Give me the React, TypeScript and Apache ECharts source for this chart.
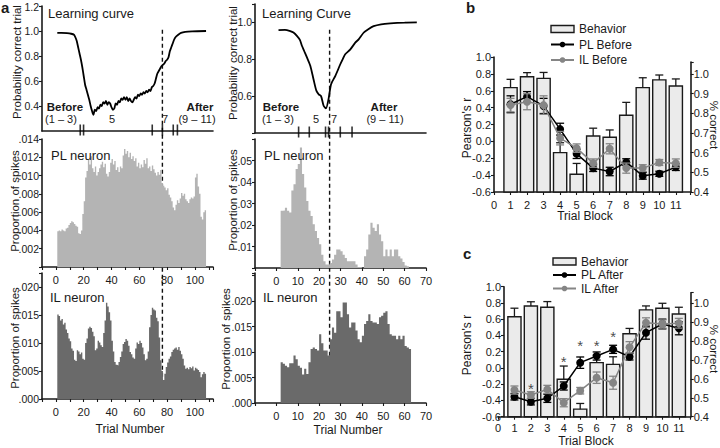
import React, { useEffect, useRef } from "react";
import * as echarts from "echarts";

const FONT = "'Liberation Sans', Arial, Helvetica, sans-serif";
const INK = "#1a1a1a";
const LIGHT = "#b4b4b4";
const DARK = "#6a6a6a";
const GRAYLINE = "#858585";
const BARFILL = "#ebebeb";

// ---------- Panel a: learning curves ----------
const curveLeftTrial = [1, 4, 8, 11, 13, 14, 15, 16, 17, 18, 19, 20, 21, 22, 23, 24, 25, 26, 27, 28, 29, 30, 31, 32, 33, 34, 35, 36, 37, 38, 39, 40, 41, 42, 43, 44, 45, 46, 47, 48, 49, 50, 51, 52, 53, 54, 55, 56, 57, 58, 59, 60, 61, 62, 63, 64, 65, 66, 67, 68, 69, 70, 71, 72, 73, 74, 75, 76, 77, 78, 79, 80, 81, 82, 83, 84, 85, 86, 88, 90, 93, 98, 108];
const curveLeftProb = [0.985, 0.985, 0.983, 0.978, 0.97, 0.95, 0.92, 0.87, 0.82, 0.77, 0.71, 0.64, 0.57, 0.53, 0.49, 0.45, 0.4, 0.36, 0.33, 0.37, 0.36, 0.39, 0.38, 0.41, 0.4, 0.43, 0.42, 0.44, 0.41, 0.43, 0.42, 0.39, 0.37, 0.38, 0.42, 0.41, 0.44, 0.43, 0.46, 0.45, 0.47, 0.45, 0.47, 0.44, 0.46, 0.44, 0.43, 0.45, 0.47, 0.46, 0.49, 0.48, 0.5, 0.49, 0.51, 0.5, 0.52, 0.51, 0.53, 0.52, 0.55, 0.56, 0.58, 0.62, 0.66, 0.68, 0.7, 0.72, 0.73, 0.74, 0.76, 0.77, 0.79, 0.84, 0.87, 0.9, 0.93, 0.95, 0.97, 0.985, 0.993, 0.997, 1.0];
const curveRightTrial = [1, 4, 6.5, 8, 9.7, 11, 12, 13, 14.3, 15.9, 17.4, 18.7, 19.8, 20.9, 22.1, 23.2, 24.4, 25.6, 27.6, 29.9, 31, 32.2, 34.6, 36.9, 38.5, 40.8, 43, 45.5, 49, 53.3, 60, 65.7];
const curveRightProb = [0.958, 0.96, 0.953, 0.945, 0.926, 0.905, 0.872, 0.845, 0.81, 0.764, 0.69, 0.63, 0.61, 0.6, 0.548, 0.534, 0.584, 0.665, 0.71, 0.773, 0.8, 0.827, 0.854, 0.89, 0.908, 0.944, 0.963, 0.98, 0.99, 0.995, 0.999, 1.0];
const probTicksLeft = [0.4, 0.6, 0.8, 1.0, 1.2];
const blockTicksLeft = [17.5, 19.9, 69.3, 76.6, 84.4, 87.4];
const blockTicksRight = [10.4, 15.4, 23.0, 24.4, 29.9, 35.4];
const switchTrialLeft = 76.6;
const switchTrialRight = 24.9;

// ---------- Panel a: spike histograms ----------
const plLeftStartTrial = 1;
const plLeftProportion = [
  0.0039, 0.004, 0.0039, 0.0041, 0.004, 0.0039, 0.0042, 0.0043,
  0.0046, 0.0048, 0.005, 0.0049, 0.0047, 0.0045, 0.0044, 0.0037, 0.0036, 0.004,
  0.0058, 0.0072, 0.0098, 0.0105, 0.0118, 0.0112, 0.0121, 0.0108, 0.0104, 0.011,
  0.01, 0.0104, 0.0108, 0.0112, 0.0115, 0.0109, 0.0113, 0.0102, 0.0099, 0.0104,
  0.0114, 0.0118, 0.0112, 0.0116, 0.0106, 0.0109, 0.0104, 0.011, 0.0108,
  0.0122, 0.0129, 0.0124, 0.0127, 0.012, 0.0125, 0.0118, 0.0121, 0.0116, 0.0119,
  0.011, 0.0114, 0.0108, 0.0112, 0.0109, 0.0117, 0.0113, 0.0119,
  0.0108, 0.011, 0.0105, 0.0111, 0.0107, 0.0103, 0.01, 0.0104, 0.0101, 0.0106,
  0.0092, 0.0089, 0.0087, 0.0084, 0.0086, 0.0079, 0.0076, 0.0072, 0.0065, 0.0062, 0.0068,
  0.0073, 0.007, 0.0075, 0.0081, 0.0078, 0.008, 0.0074, 0.0072, 0.007,
  0.0074, 0.0076, 0.0075, 0.0077, 0.0098, 0.0102, 0.0088, 0.008, 0.0055, 0.0052, 0.006, 0.0062,
];
const ilLeftStartTrial = 1;
const ilLeftProportion = [
  0.0151, 0.0148, 0.014, 0.0143, 0.0133, 0.0136, 0.0124, 0.0118, 0.0108, 0.0103,
  0.009, 0.0086, 0.007, 0.0068, 0.0087, 0.0085, 0.008, 0.0083, 0.0072, 0.007,
  0.01, 0.0108, 0.0126, 0.0129, 0.0127, 0.012, 0.0112, 0.0087, 0.009, 0.0104,
  0.0101, 0.0096, 0.0093, 0.0118, 0.014, 0.0172, 0.0165, 0.0155, 0.014, 0.0104,
  0.0085, 0.0066, 0.0061, 0.006, 0.0066, 0.0075, 0.0085, 0.0098, 0.0102, 0.0107,
  0.0104, 0.0095, 0.0084, 0.008, 0.0074, 0.0072, 0.009, 0.0101, 0.0098, 0.0104,
  0.01, 0.0092, 0.008, 0.0069, 0.0072, 0.0085, 0.0128, 0.015, 0.0163, 0.016,
  0.0158, 0.0145, 0.0139, 0.011, 0.0069, 0.005, 0.0034, 0.0045, 0.0057, 0.0065,
  0.0072, 0.0076, 0.0084, 0.0088, 0.009, 0.0092, 0.0088, 0.0093, 0.0086, 0.008,
  0.0072, 0.006, 0.0054, 0.0056, 0.0053, 0.0057, 0.0055, 0.0058, 0.0051, 0.0056,
  0.0054, 0.0052, 0.0048, 0.0039, 0.0044, 0.0048, 0.0045,
];
const plRightStartTrial = 2;
const plRightProportion = [
  0.0266, 0.0268, 0.028, 0.0266, 0.0258, 0.036, 0.039, 0.046, 0.0484, 0.056,
  0.0437, 0.0375, 0.0312, 0.0266, 0.0242, 0.0203, 0.0172, 0.014, 0.011, 0.0062,
  0.0031, 0.0016, 0.0016, 0.0023, 0.0039, 0.0062, 0.0086, 0.0086, 0.0078, 0.0062,
  0.0047, 0.0031, 0.0031, 0.0031, 0.0031, 0.0016, 0.0005, 0.0005, 0, 0.0055,
  0.0086, 0.0156, 0.021, 0.0187, 0.0172, 0.0203, 0.0156, 0.0125, 0.0055, 0.0086,
  0.0055, 0.0086, 0.0055, 0.0086, 0.0086, 0.0055, 0.0044, 0.0028, 0.0012, 0.0008,
];
const ilRightStartTrial = 2;
const ilRightProportion = [
  0.008, 0.0077, 0.0073, 0.007, 0.0078, 0.0078, 0.0093, 0.0086, 0.0073, 0.0069,
  0.0056, 0.0067, 0.0057, 0.008, 0.0106, 0.0109, 0.0106, 0.0103, 0.0135, 0.0117,
  0.0103, 0.0103, 0.0093, 0.0125, 0.0148, 0.0138, 0.018, 0.018, 0.0168, 0.0197,
  0.0197, 0.0174, 0.0148, 0.0158, 0.0158, 0.0142, 0.0125, 0.0119, 0.0132, 0.0155,
  0.0161, 0.0174, 0.0161, 0.0158, 0.0158, 0.0155, 0.0168, 0.0171, 0.0177, 0.018,
  0.0155, 0.0135, 0.0132, 0.0132, 0.0125, 0.0132, 0.0125, 0.0132, 0.0112, 0.0109, 0.0106,
];

// ---------- Panels b and c ----------
const trialBlocks = [1, 2, 3, 4, 5, 6, 7, 8, 9, 10, 11];
const behaviorBefore = [0.93, 0.985, 0.977, 0.6, 0.49, 0.684, 0.678, 0.79, 0.93, 0.969, 0.938];
const behaviorBeforeErr = [0.042, 0.021, 0.03, 0.05, 0.055, 0.04, 0.037, 0.065, 0.05, 0.025, 0.036];
const plBefore = [0.44, 0.53, 0.42, 0.145, -0.148, -0.317, -0.357, -0.246, -0.408, -0.384, -0.305];
const plBeforeErr = [0.1, 0.06, 0.09, 0.07, 0.055, 0.04, 0.05, 0.04, 0.04, 0.03, 0.04];
const ilBefore = [0.43, 0.47, 0.43, 0.038, -0.08, -0.258, -0.088, -0.317, -0.317, -0.25, -0.258];
const ilBeforeErr = [0.08, 0.095, 0.11, 0.08, 0.05, 0.05, 0.06, 0.06, 0.04, 0.035, 0.05];

const behaviorAfter = [0.929, 0.986, 0.979, 0.598, 0.44, 0.686, 0.677, 0.839, 0.965, 0.974, 0.943];
const behaviorAfterErr = [0.045, 0.022, 0.03, 0.07, 0.03, 0.04, 0.04, 0.028, 0.021, 0.026, 0.036];
const plAfter = [-0.354, -0.415, -0.374, -0.222, 0.065, 0.147, 0.229, 0.138, 0.434, 0.541, 0.488];
const plAfterErr = [0.04, 0.04, 0.05, 0.05, 0.07, 0.05, 0.05, 0.04, 0.08, 0.06, 0.08];
const ilAfter = [-0.272, -0.333, -0.264, -0.428, -0.28, -0.12, -0.182, 0.254, 0.557, 0.541, 0.55];
const ilAfterErr = [0.05, 0.04, 0.05, 0.05, 0.04, 0.07, 0.08, 0.07, 0.06, 0.05, 0.06];
const starBlocks = [2, 4, 5, 6, 7];
const starLevel = [-0.198, 0.126, 0.323, 0.323, 0.434];

// ---------- helpers ----------
type FmtOpts = { strip?: boolean; hideZero?: boolean; lo?: number; hi?: number };
const tickFmt = (step: number, digits: number, o: FmtOpts = {}) => (raw: number) => {
  let v = Math.abs(raw) < 1e-9 ? 0 : raw;
  const k = v / step;
  if (Math.abs(k - Math.round(k)) > 1e-7) return "";
  if (o.hideZero && v === 0) return "";
  if (o.lo !== undefined && v < o.lo - 1e-9) return "";
  if (o.hi !== undefined && v > o.hi + 1e-9) return "";
  let s = v.toFixed(digits);
  if (o.strip) s = s.replace(/^0\./, ".");
  return s;
};

const labelA = { color: INK, fontFamily: FONT, fontSize: 10.5 };
const labelB = { color: INK, fontFamily: FONT, fontSize: 11 };

function valAxis(gridIndex: number, min: number, max: number, interval: number, extra: any = {}) {
  return {
    type: "value",
    gridIndex,
    min,
    max,
    interval,
    splitLine: { show: false },
    axisLine: { show: true, onZero: false, lineStyle: { color: INK, width: 1.6 } },
    axisTick: { show: true, length: 3, lineStyle: { color: INK, width: 1.1 } },
    ...extra,
  };
}

function histSeries(axis: number, start: number, vals: number[], color: string) {
  const data = vals.map((v, i) => [start + i, v]);
  data.push([start + vals.length, vals[vals.length - 1]]);
  return {
    type: "line",
    xAxisIndex: axis,
    yAxisIndex: axis,
    silent: true,
    step: "end",
    symbol: "none",
    showSymbol: false,
    z: 2,
    lineStyle: { width: 0, color },
    areaStyle: { color, opacity: 1 },
    data,
  };
}

function barSeries(axis: number, name: string, vals: number[], base: number) {
  return {
    type: "custom",
    name,
    xAxisIndex: axis,
    yAxisIndex: axis,
    silent: true,
    z: 1,
    itemStyle: { color: BARFILL, borderColor: INK },
    data: trialBlocks.map((b, i) => [b, vals[i]]),
    renderItem: (_p: any, api: any) => {
      const x = api.value(0);
      const v = api.value(1);
      const a = api.coord([x - 0.4, base]);
      const b = api.coord([x + 0.4, v]);
      return {
        type: "rect",
        shape: { x: a[0], y: b[1], width: b[0] - a[0], height: a[1] - b[1] },
        style: { fill: BARFILL, stroke: INK, lineWidth: 1.4 },
      };
    },
  };
}

function errSeries(axis: number, vals: number[], errs: number[], color: string, upOnly: boolean, z: number) {
  return {
    type: "custom",
    xAxisIndex: axis,
    yAxisIndex: axis,
    silent: true,
    z,
    data: trialBlocks.map((b, i) => [b, upOnly ? vals[i] : vals[i] - errs[i], vals[i] + errs[i]]),
    renderItem: (_p: any, api: any) => {
      const x = api.value(0);
      const p1 = api.coord([x, api.value(1)]);
      const p2 = api.coord([x, api.value(2)]);
      const cw = 4;
      const st = { stroke: color, lineWidth: 1.3 };
      const children: any[] = [
        { type: "line", shape: { x1: p1[0], y1: p1[1], x2: p2[0], y2: p2[1] }, style: st },
        { type: "line", shape: { x1: p2[0] - cw, y1: p2[1], x2: p2[0] + cw, y2: p2[1] }, style: st },
      ];
      if (!upOnly) children.push({ type: "line", shape: { x1: p1[0] - cw, y1: p1[1], x2: p1[0] + cw, y2: p1[1] }, style: st });
      return { type: "group", children };
    },
  };
}

function lineSeries(axis: number, name: string, vals: number[], color: string, z: number) {
  return {
    type: "line",
    name,
    xAxisIndex: axis,
    yAxisIndex: axis,
    z,
    symbol: "circle",
    symbolSize: 8,
    silent: true,
    itemStyle: { color },
    lineStyle: { color, width: 1.5 },
    data: trialBlocks.map((b, i) => [b, vals[i]]),
  };
}

function buildOption(): any {
  const grids = [
    { left: 42, top: 6, width: 171, height: 125 },
    { left: 255, top: 4, width: 171, height: 129 },
    { left: 42, top: 139, width: 171, height: 128 },
    { left: 255, top: 139, width: 171, height: 129 },
    { left: 42, top: 273, width: 171, height: 126 },
    { left: 255, top: 273, width: 171, height: 130 },
    { left: 494, top: 57, width: 196.7, height: 135 },
    { left: 494, top: 62, width: 196.7, height: 130 },
    { left: 498, top: 286.7, width: 192.7, height: 130 },
    { left: 498, top: 292.7, width: 192.7, height: 124 },
  ].map((g) => ({ ...g, containLabel: false, outerBoundsMode: "none", show: false }));

  const noLabelX = { axisTick: { show: false }, axisLabel: { show: false } };
  const histLabelL = { axisLabel: { ...labelA, fontSize: 11, margin: 7, formatter: tickFmt(20, 0, { lo: 0, hi: 100 }) } };
  const histLabelR = { axisLabel: { ...labelA, fontSize: 11, margin: 7, formatter: tickFmt(10, 0, { lo: 0, hi: 70 }) } };
  const blockLabelB = { axisLabel: { ...labelB, margin: 7, formatter: tickFmt(1, 0, { hi: 11 }) } };
  const blockLabelC = { axisLabel: { ...labelB, margin: 6, formatter: tickFmt(1, 0, { hi: 11 }) } };

  const xAxis = [
    valAxis(0, -10, 113, 10, noLabelX),
    valAxis(1, -10, 70, 10, noLabelX),
    valAxis(2, -10, 113, 10, histLabelL),
    valAxis(3, -10, 70, 10, histLabelR),
    valAxis(4, -10, 113, 10, histLabelL),
    valAxis(5, -10, 70, 10, histLabelR),
    valAxis(6, 0, 11.9, 1, blockLabelB),
    valAxis(7, 0, 11.9, 1, { show: false }),
    valAxis(8, 0, 11.72, 1, blockLabelC),
    valAxis(9, 0, 11.72, 1, { show: false }),
  ];

  const ya = (f: any, margin = 3) => ({ axisLabel: { ...labelA, margin, formatter: f, showMaxLabel: true, showMinLabel: true } });
  const yb = (f: any, margin = 3) => ({ axisLabel: { ...labelB, margin, formatter: f, showMaxLabel: true, showMinLabel: true } });
  const yAxis = [
    valAxis(0, 0.2, 1.2, 0.2, {
      axisTick: { show: true, length: 3, lineStyle: { color: INK, width: 1.1 }, customValues: probTicksLeft },
      axisLabel: { ...labelA, margin: 3, customValues: probTicksLeft, formatter: tickFmt(0.2, 1, { hi: 1.0 }) },
    }),
    valAxis(1, 0.4, 1.1, 0.2, ya(tickFmt(0.2, 1, { lo: 0.6 }))),
    valAxis(2, 0, 0.014, 0.002, ya(tickFmt(0.002, 3, { strip: true, hideZero: true }))),
    valAxis(3, 0, 0.06, 0.01, ya(tickFmt(0.01, 2, { strip: true, hideZero: true, hi: 0.05 }))),
    valAxis(4, 0, 0.0225, 0.005, ya(tickFmt(0.005, 3, { strip: true, hi: 0.02 }))),
    valAxis(5, 0, 0.0255, 0.005, ya(tickFmt(0.005, 3, { strip: true, hi: 0.02 }))),
    valAxis(6, -0.6, 1.0, 0.2, yb(tickFmt(0.2, 1))),
    valAxis(7, 0.4, 1.06, 0.1, { position: "right", ...yb(tickFmt(0.1, 1, { hi: 1.0 }), 3) }),
    valAxis(8, -0.6, 1.0, 0.2, { offset: -6, ...yb(tickFmt(0.2, 1)) }),
    valAxis(9, 0.4, 1.056, 0.1, { position: "right", ...yb(tickFmt(0.1, 1, { hi: 1.0 }), 3) }),
  ];

  const curve = (axis: number, xs: number[], ys: number[]) => ({
    type: "line",
    xAxisIndex: axis,
    yAxisIndex: axis,
    showSymbol: false,
    symbol: "none",
    smooth: 0.25,
    silent: true,
    z: 3,
    lineStyle: { color: "#000", width: 1.8 },
    data: xs.map((x, i) => [x, ys[i]]),
  });

  const blockTicks = (axis: number, ticks: number[], yBase: number) => ({
    type: "scatter",
    xAxisIndex: axis,
    yAxisIndex: axis,
    silent: true,
    clip: false,
    symbol: "rect",
    symbolSize: [1.6, 11],
    symbolOffset: [0, -1],
    itemStyle: { color: "#000" },
    z: 4,
    data: ticks.map((t) => [t, yBase]),
  });

  const series: any[] = [
    curve(0, curveLeftTrial, curveLeftProb),
    curve(1, curveRightTrial, curveRightProb),
    blockTicks(0, blockTicksLeft, 0.2),
    blockTicks(1, blockTicksRight, 0.4),
    histSeries(2, plLeftStartTrial, plLeftProportion, LIGHT),
    histSeries(3, plRightStartTrial, plRightProportion, LIGHT),
    histSeries(4, ilLeftStartTrial, ilLeftProportion, DARK),
    histSeries(5, ilRightStartTrial, ilRightProportion, DARK),
    // b
    barSeries(7, "Behavior", behaviorBefore, 0.4),
    errSeries(7, behaviorBefore, behaviorBeforeErr, INK, true, 2),
    errSeries(6, plBefore, plBeforeErr, "#000", false, 3),
    lineSeries(6, "PL Before", plBefore, "#000", 4),
    errSeries(6, ilBefore, ilBeforeErr, GRAYLINE, false, 5),
    lineSeries(6, "IL Before", ilBefore, GRAYLINE, 6),
    // c
    barSeries(9, "Behavior", behaviorAfter, 0.4),
    errSeries(9, behaviorAfter, behaviorAfterErr, INK, true, 2),
    errSeries(8, plAfter, plAfterErr, "#000", false, 3),
    lineSeries(8, "PL After", plAfter, "#000", 4),
    errSeries(8, ilAfter, ilAfterErr, GRAYLINE, false, 5),
    lineSeries(8, "IL After", ilAfter, GRAYLINE, 6),
    {
      type: "scatter",
      xAxisIndex: 8,
      yAxisIndex: 8,
      silent: true,
      symbol: "circle",
      symbolSize: 1,
      itemStyle: { color: "rgba(0,0,0,0)" },
      label: { show: true, position: "inside", formatter: "*", fontSize: 15, fontFamily: FONT, color: INK, offset: [0, 4] },
      z: 7,
      data: starBlocks.map((b, i) => [b, starLevel[i]]),
    },
  ];

  const behaviorLegendItem = { name: "Behavior", icon: "rect", itemStyle: { color: BARFILL, borderColor: INK, borderWidth: 1.4 } };
  const legendBase = {
    orient: "vertical",
    itemWidth: 23,
    itemHeight: 7,
    selectedMode: false,
    padding: 0,
  };
  const legend = [
    { ...legendBase, left: 550, top: 22, itemGap: 1.5, textStyle: { fontSize: 12, fontFamily: FONT, color: INK, lineHeight: 14 }, data: [behaviorLegendItem, "PL Before", "IL Before"] },
    { ...legendBase, left: 552, top: 255, itemGap: 0.5, textStyle: { fontSize: 12, fontFamily: FONT, color: INK, lineHeight: 13 }, data: [behaviorLegendItem, "PL After", "IL After"] },
  ];

  return { animation: false, backgroundColor: "#fff", grid: grids, xAxis, yAxis, series, legend };
}

type T = [string, number, number, number, string?, boolean?, number?];
// text, x, y, fontSize, align, bold, rotation
const textItems: T[] = [
  ["a", 1, 7, 15, "left", true],
  ["b", 466, 7, 15, "left", true],
  ["c", 463, 253, 15, "left", true],
  ["Learning curve", 48, 13.5, 13, "left"],
  ["Learning Curve", 262, 13, 13, "left"],
  ["Before", 65, 107, 11.5, "center", true],
  ["(1 – 3)", 61, 119, 11, "center"],
  ["5", 112, 119, 11, "center"],
  ["7", 165, 119, 11, "center"],
  ["After", 200, 107, 11.5, "center", true],
  ["(9 – 11)", 197, 119, 11, "center"],
  ["Before", 281, 107, 11.5, "center", true],
  ["(1 – 3)", 278, 119, 11, "center"],
  ["5", 316, 119, 11, "center"],
  ["7", 334, 119, 11, "center"],
  ["After", 384, 107, 11.5, "center", true],
  ["(9 – 11)", 385, 119, 11, "center"],
  ["PL neuron", 51, 155, 13, "left"],
  ["PL neuron", 264, 155, 13, "left"],
  ["IL neuron", 50, 297, 13, "left"],
  ["IL neuron", 263, 297, 13, "left"],
  ["Probability correct trial", 17, 62, 11.5, "center", false, Math.PI / 2],
  ["Probability correct trial", 233, 63, 11.5, "center", false, Math.PI / 2],
  ["Proportion of spikes", 15, 201, 11.5, "center", false, Math.PI / 2],
  ["Proportion of spikes", 233, 200, 11.5, "center", false, Math.PI / 2],
  ["Proportion of spikes", 15, 338, 11.5, "center", false, Math.PI / 2],
  ["Proportion of spikes", 226, 339, 11.5, "center", false, Math.PI / 2],
  ["Trial Number", 130, 429, 12, "center"],
  ["Trial Number", 348, 430, 12, "center"],
  ["Pearson's r", 467, 128, 12, "center", false, Math.PI / 2],
  ["% correct", 713.5, 125, 11.5, "center", false, -Math.PI / 2],
  ["Trial Block", 585, 216, 12, "center"],
  ["Pearson's r", 467, 345, 12, "center", false, Math.PI / 2],
  ["% correct", 713.5, 349, 11.5, "center", false, -Math.PI / 2],
  ["Trial Block", 586, 441, 12, "center"],
];

export default function App() {
  const ref = useRef<HTMLDivElement>(null);
  useEffect(() => {
    if (!ref.current) return;
    const chart = echarts.init(ref.current, undefined, { renderer: "svg", width: 720, height: 448 });
    chart.setOption(buildOption());

    const px = (axis: "xAxisIndex" | "yAxisIndex", idx: number, v: number) =>
      chart.convertToPixel({ [axis]: idx } as any, v) as unknown as number;

    const xl = px("xAxisIndex", 0, switchTrialLeft);
    const xr = px("xAxisIndex", 1, switchTrialRight);
    const yTop = px("yAxisIndex", 0, 1.01);
    const ylBot = px("yAxisIndex", 4, 0);
    const yrBot = px("yAxisIndex", 5, 0);

    const dash = (x: number, y2: number) => ({
      type: "line",
      z: 1,
      silent: true,
      shape: { x1: x, y1: yTop, x2: x, y2 },
      style: { stroke: "#111", lineWidth: 1.4, lineDash: [4, 3] },
    });

    // top tick label of the left learning-curve axis, placed through the axis scale
    const topTick = probTicksLeft[probTicksLeft.length - 1];
    const axisX = px("xAxisIndex", 0, -10);
    const topY = px("yAxisIndex", 0, topTick);
    const topTickLabel = {
      type: "text",
      x: axisX - 3,
      y: Math.max(0, topY - 5),
      z: 20,
      silent: true,
      style: { text: topTick.toFixed(1), fill: INK, font: `10.5px ${FONT}`, textAlign: "right", textVerticalAlign: "top" },
    };

    const texts = textItems.map(([text, x, y, size, align, bold, rot]) => ({
      type: "text",
      x,
      y,
      rotation: rot || 0,
      z: 10,
      silent: true,
      style: {
        text,
        fill: INK,
        font: `${bold ? "bold " : ""}${size}px ${FONT}`,
        textAlign: align || "left",
        textVerticalAlign: "middle",
      },
    }));

    chart.setOption({ graphic: [dash(xl, ylBot), dash(xr, yrBot), topTickLabel, ...texts] });
    return () => chart.dispose();
  }, []);
  return <div ref={ref} style={{ position: "fixed", left: 0, top: 0, width: 720, height: 448, background: "#fff" }} />;
}
